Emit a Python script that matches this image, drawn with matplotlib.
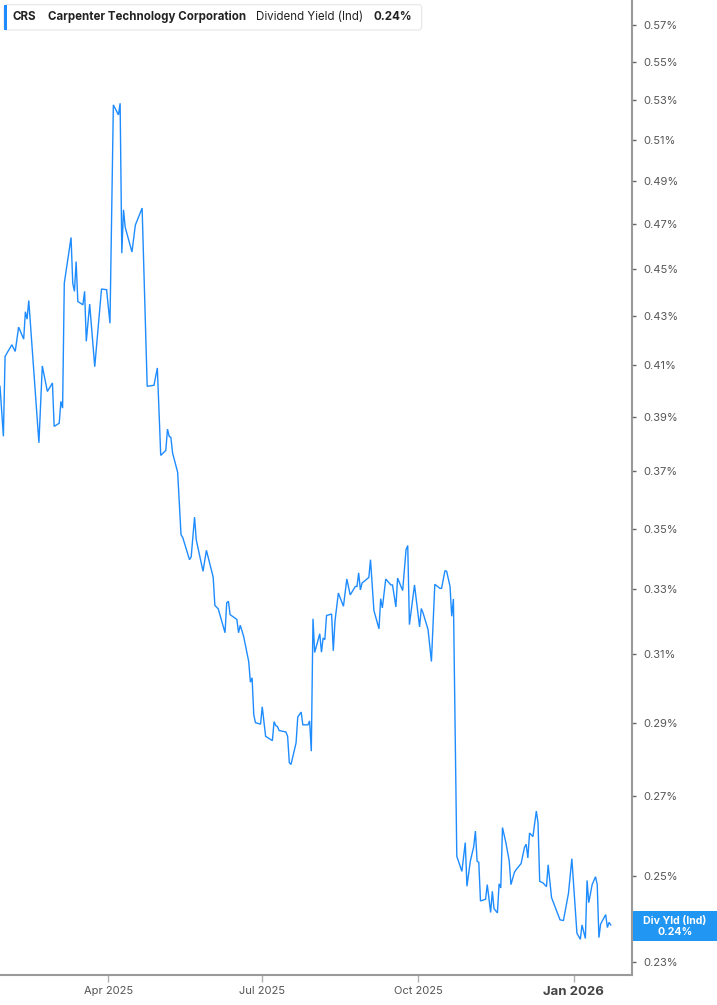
import matplotlib
matplotlib.use("Agg")
import matplotlib.pyplot as plt
import matplotlib.dates as mdates
from matplotlib.patches import FancyBboxPatch, Rectangle
from matplotlib.ticker import FixedLocator, FuncFormatter, NullLocator
import pandas as pd

plt.rcParams['font.family'] = ['Inter', 'DejaVu Sans']

dates = [
    "2025-01-27", "2025-01-29", "2025-01-30", "2025-02-03", "2025-02-05", "2025-02-07",
    "2025-02-10", "2025-02-11", "2025-02-12", "2025-02-13", "2025-02-19", "2025-02-21",
    "2025-02-24", "2025-02-27", "2025-02-28", "2025-03-03", "2025-03-04", "2025-03-05",
    "2025-03-06", "2025-03-10", "2025-03-11", "2025-03-12", "2025-03-13", "2025-03-14",
    "2025-03-17", "2025-03-18", "2025-03-19", "2025-03-21", "2025-03-24", "2025-03-28",
    "2025-03-31", "2025-04-02", "2025-04-04", "2025-04-07", "2025-04-08", "2025-04-09",
    "2025-04-10", "2025-04-11", "2025-04-15", "2025-04-17", "2025-04-21", "2025-04-24",
    "2025-04-28", "2025-04-30", "2025-05-02", "2025-05-05", "2025-05-06", "2025-05-07",
    "2025-05-08", "2025-05-09", "2025-05-12", "2025-05-14", "2025-05-15", "2025-05-19",
    "2025-05-20", "2025-05-22", "2025-05-23", "2025-05-27", "2025-05-29", "2025-06-02",
    "2025-06-03", "2025-06-05", "2025-06-09", "2025-06-10", "2025-06-11", "2025-06-12",
    "2025-06-16", "2025-06-17", "2025-06-18", "2025-06-20", "2025-06-23", "2025-06-24",
    "2025-06-25", "2025-06-26", "2025-06-27", "2025-06-30", "2025-07-01", "2025-07-03",
    "2025-07-07", "2025-07-08", "2025-07-09", "2025-07-10", "2025-07-11", "2025-07-15",
    "2025-07-16", "2025-07-17", "2025-07-18", "2025-07-21", "2025-07-22", "2025-07-24",
    "2025-07-25", "2025-07-28", "2025-07-29", "2025-07-30", "2025-07-31", "2025-08-01",
    "2025-08-04", "2025-08-05", "2025-08-06", "2025-08-07", "2025-08-08", "2025-08-11",
    "2025-08-12", "2025-08-13", "2025-08-15", "2025-08-18", "2025-08-20", "2025-08-22",
    "2025-08-25", "2025-08-26", "2025-08-27", "2025-08-28", "2025-08-29", "2025-09-02",
    "2025-09-03", "2025-09-05", "2025-09-08", "2025-09-09", "2025-09-10", "2025-09-12",
    "2025-09-15", "2025-09-16", "2025-09-18", "2025-09-19", "2025-09-22", "2025-09-24",
    "2025-09-25", "2025-09-26", "2025-09-29", "2025-10-02", "2025-10-03", "2025-10-04",
    "2025-10-07", "2025-10-09", "2025-10-11", "2025-10-14", "2025-10-15", "2025-10-17",
    "2025-10-18", "2025-10-20", "2025-10-21", "2025-10-22", "2025-10-24", "2025-10-27",
    "2025-10-29", "2025-10-30", "2025-11-01", "2025-11-03", "2025-11-04", "2025-11-05",
    "2025-11-06", "2025-11-07", "2025-11-10", "2025-11-11", "2025-11-13", "2025-11-14",
    "2025-11-15", "2025-11-17", "2025-11-18", "2025-11-19", "2025-11-20", "2025-11-22",
    "2025-11-24", "2025-11-25", "2025-11-27", "2025-11-28", "2025-12-01", "2025-12-03",
    "2025-12-04", "2025-12-05", "2025-12-06", "2025-12-08", "2025-12-10", "2025-12-11",
    "2025-12-12", "2025-12-14", "2025-12-16", "2025-12-17", "2025-12-19", "2025-12-24",
    "2025-12-26", "2025-12-29", "2025-12-31", "2026-01-03", "2026-01-05", "2026-01-06",
    "2026-01-08", "2026-01-09", "2026-01-10", "2026-01-12", "2026-01-14", "2026-01-15",
    "2026-01-16", "2026-01-17", "2026-01-20", "2026-01-21", "2026-01-22", "2026-01-23",
]

div_yield = [
    0.4017, 0.3827, 0.4135, 0.4182, 0.4155, 0.4254,
    0.4205, 0.4318, 0.4287, 0.4365, 0.3803, 0.4097,
    0.3997, 0.4030, 0.3864, 0.3876, 0.3959, 0.3933,
    0.4439, 0.4640, 0.4439, 0.4404, 0.4533, 0.4361,
    0.4347, 0.4404, 0.4196, 0.4350, 0.4094, 0.4414,
    0.4411, 0.4270, 0.5276, 0.5225, 0.5284, 0.4570,
    0.4766, 0.4686, 0.4575, 0.4696, 0.4774, 0.4017,
    0.4021, 0.4089, 0.3757, 0.3775, 0.3854, 0.3827,
    0.3823, 0.3766, 0.3696, 0.3479, 0.3470, 0.3396,
    0.3405, 0.3539, 0.3462, 0.3358, 0.3427, 0.3339,
    0.3249, 0.3238, 0.3164, 0.3257, 0.3262, 0.3220,
    0.3205, 0.3164, 0.3187, 0.3153, 0.3077, 0.3016,
    0.3029, 0.2922, 0.2900, 0.2896, 0.2945, 0.2862,
    0.2850, 0.2903, 0.2892, 0.2889, 0.2878, 0.2874,
    0.2862, 0.2790, 0.2785, 0.2844, 0.2916, 0.2930,
    0.2894, 0.2894, 0.2905, 0.2821, 0.3207, 0.3104,
    0.3161, 0.3105, 0.3148, 0.3143, 0.3217, 0.3222,
    0.3109, 0.3200, 0.3288, 0.3246, 0.3333, 0.3282,
    0.3309, 0.3309, 0.3353, 0.3298, 0.3320, 0.3338,
    0.3396, 0.3233, 0.3176, 0.3270, 0.3241, 0.3333,
    0.3314, 0.3314, 0.3244, 0.3336, 0.3296, 0.3429,
    0.3443, 0.3189, 0.3314, 0.3182, 0.3239, 0.3226,
    0.3174, 0.3077, 0.3316, 0.3303, 0.3303, 0.3360,
    0.3358, 0.3309, 0.3215, 0.3269, 0.2548, 0.2511,
    0.2582, 0.2475, 0.2536, 0.2572, 0.2611, 0.2536,
    0.2533, 0.2440, 0.2444, 0.2479, 0.2413, 0.2463,
    0.2422, 0.2412, 0.2481, 0.2471, 0.2620, 0.2582,
    0.2536, 0.2479, 0.2508, 0.2515, 0.2530, 0.2570,
    0.2578, 0.2544, 0.2606, 0.2597, 0.2662, 0.2632,
    0.2487, 0.2483, 0.2474, 0.2527, 0.2448, 0.2396,
    0.2394, 0.2458, 0.2542, 0.2365, 0.2351, 0.2384,
    0.2353, 0.2489, 0.2436, 0.2479, 0.2498, 0.2479,
    0.2355, 0.2386, 0.2408, 0.2378, 0.2390, 0.2384,
]

y_ticks = [0.23, 0.25, 0.27, 0.29, 0.31, 0.33, 0.35, 0.37, 0.39, 0.41,
           0.43, 0.45, 0.47, 0.49, 0.51, 0.53, 0.55, 0.57]
x_tick_dates = ["2025-04-01", "2025-07-01", "2025-10-01", "2026-01-01"]
x_tick_labels = ["Apr 2025", "Jul 2025", "Oct 2025", "Jan 2026"]

ticker = "CRS"
company = "Carpenter Technology Corporation"
metric = "Dividend Yield (Ind)"
metric_short = "Div Yld (Ind)"
last_value = "0.24%"

LINE = "#1e8cff"
AXIS = "#9a9a9a"
TXT = "#555555"

W, H = 717, 1005
fig = plt.figure(figsize=(W / 100, H / 100), dpi=100)
ax = fig.add_axes([0, 30 / H, 632.4 / W, 975 / H])

x = pd.to_datetime(dates)
ax.plot(x, div_yield, color=LINE, lw=1.0, solid_joinstyle='miter')

ax.set_yscale('log')
ax.set_ylim(0.22712, 0.5840)
ax.set_xlim(pd.Timestamp("2025-01-27"), pd.Timestamp("2026-02-04 19:00"))

ax.yaxis.tick_right()
ax.yaxis.set_major_locator(FixedLocator(y_ticks))
ax.yaxis.set_minor_locator(NullLocator())
ax.yaxis.set_major_formatter(FuncFormatter(lambda v, p: f"{v:.2f}%"))
ax.tick_params(axis='y', which='major', direction='out', length=3, width=1,
               color="#666666", labelsize=8, labelcolor=TXT, pad=5)

ax.xaxis.set_major_locator(FixedLocator(mdates.date2num(pd.to_datetime(x_tick_dates))))
ax.xaxis.set_minor_locator(NullLocator())
ax.set_xticklabels(x_tick_labels)
ax.tick_params(axis='x', which='major', direction='out', length=5, width=1,
               color="#b0b0b0", labelsize=8, labelcolor=TXT, pad=3)
for lbl in ax.get_xticklabels():
    if lbl.get_text().startswith("Jan"):
        lbl.set_fontweight('bold')
        lbl.set_fontsize(9.5)
        lbl.set_color("#444444")

for s in ['top', 'left']:
    ax.spines[s].set_visible(False)
for s in ['right', 'bottom']:
    ax.spines[s].set_color(AXIS)
    ax.spines[s].set_linewidth(1.5)

# header box
def fx(px):
    return px / W

def fy(py):
    return 1 - py / H

hdr = FancyBboxPatch((fx(4), fy(30)), fx(421.7) - fx(4), fy(4.7) - fy(30),
                     boxstyle="round,pad=0,rounding_size=0.004",
                     transform=fig.transFigure, facecolor="white",
                     edgecolor="#e6e6e6", lw=0.8, zorder=5)
fig.patches.append(hdr)
bar = Rectangle((fx(4), fy(30)), fx(7.3) - fx(4), fy(4.7) - fy(30),
                transform=fig.transFigure, facecolor=LINE, edgecolor='none', zorder=6)
fig.patches.append(bar)
ty = fy(17)
fig.text(fx(13), ty, ticker, fontsize=8.3, fontweight='bold', color="#222222", va='center', zorder=7)
fig.text(fx(47.5), ty, company, fontsize=8.3, fontweight='bold', color="#222222", va='center', zorder=7)
fig.text(fx(256.5), ty, metric, fontsize=8.3, color="#222222", va='center', zorder=7)
fig.text(fx(373.3), ty, last_value, fontsize=8.3, fontweight='bold', color="#222222", va='center', zorder=7)

# right value label
lab = Rectangle((fx(633), fy(941)), fx(717) - fx(633), fy(911) - fy(941),
                transform=fig.transFigure, facecolor="#2196f3", edgecolor='none', zorder=6)
fig.patches.append(lab)
fig.text(fx(675), fy(920.5), metric_short, fontsize=7.6, fontweight='bold', color="white",
         ha='center', va='center', zorder=7)
fig.text(fx(675), fy(931.5), last_value, fontsize=7.6, fontweight='bold', color="white",
         ha='center', va='center', zorder=7)

fig.savefig("out.png", dpi=100)
